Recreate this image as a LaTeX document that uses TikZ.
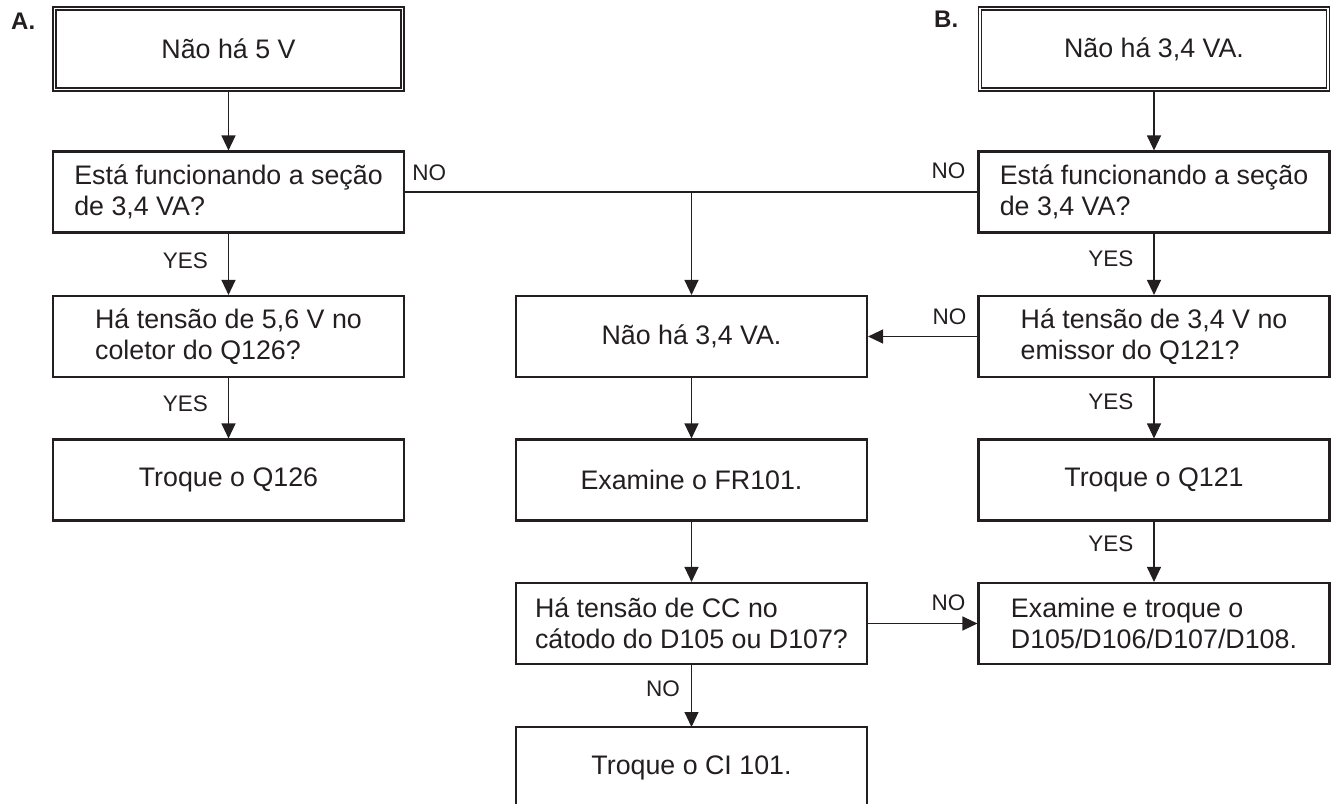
\documentclass[tikz,border=0pt]{standalone}
\usepackage{fontspec}
\setmainfont{Liberation Sans}
\usetikzlibrary{arrows.meta,calc}
\definecolor{ink}{HTML}{231F20}
\begin{document}
\begin{tikzpicture}[x=1bp,y=-1bp,
  box/.style={draw=ink, line width=2.1bp, minimum width=351bp, minimum height=81bp,
    inner sep=0pt, align=left, text=ink, font=\fontsize{26.8bp}{31bp}\selectfont},
  startbox/.style={box, line width=1.2bp, minimum height=84bp},
  inner/.style={draw=ink, line width=1.2bp},
  lbl/.style={inner sep=0pt, text=ink, font=\fontsize{22.5bp}{26bp}\selectfont},
  tag/.style={inner sep=0pt, text=ink, font=\fontsize{24bp}{28bp}\selectfont\bfseries},
  conn/.style={draw=ink, line width=1.2bp},
  arr/.style={conn, -{Triangle[length=15bp,width=14bp]}},
]
\path[use as bounding box] (0,0) rectangle (1331,804);

% section labels
\node[tag, anchor=base west] (ta) at (11,30) {A.};
\node[tag, anchor=base west] (tb) at (934,28) {B.};

% left column
\node[startbox] (a0) at (228.5,49) {Não há 5 V};
\draw[inner] ($(a0.north west)+(3.6,3.6)$) rectangle ($(a0.south east)+(-3.6,-3.6)$);
\node[box] (a1) at (228.5,192) {Está funcionando a seção\\de 3,4 VA?};
\node[box] (a2) at (228.5,336.5) {Há tensão de 5,6 V no\\coletor do Q126?};
\node[box] (a3) at (228.5,480) {Troque o Q126};

% right column
\node[startbox] (b0) at (1154,49) {Não há 3,4 VA.};
\draw[inner] ($(b0.north west)+(3.6,3.6)$) rectangle ($(b0.south east)+(-3.6,-3.6)$);
\node[box] (b1) at (1154,192) {Está funcionando a seção\\de 3,4 VA?};
\node[box] (b2) at (1154,336.5) {Há tensão de 3,4 V no\\emissor do Q121?};
\node[box] (b3) at (1154,480) {Troque o Q121};
\node[box] (b4) at (1154,623.5) {Examine e troque o\\D105/D106/D107/D108.};

% middle column
\node[box] (m2) at (691.5,336.5) {Não há 3,4 VA.};
\node[box] (m3) at (691.5,480) {Examine o FR101.};
\node[box] (m4) at (691.5,623.5) {Há tensão de CC no\\cátodo do D105 ou D107?};
\node[box, draw=none, outer sep=0pt] (m5) at (691.5,767.5) {Troque o CI 101.};
\coordinate (bot) at (0,804);
\draw[ink, line width=2.1bp] (m5.north west |- bot) -- (m5.north west) -- (m5.north east) -- (m5.north east |- bot);

% left connectors
\draw[arr] (a0) -- (a1);
\draw[arr] (a1) -- node[lbl, pos=0.45, left=20bp] (y1) {YES} (a2);
\draw[arr] (a2) -- node[lbl, pos=0.42, left=20bp] (y2) {YES} (a3);

% right connectors
\draw[arr] (b0) -- (b1);
\draw[arr] (b1) -- node[lbl, pos=0.41, left=20bp] (y3) {YES} (b2);
\draw[arr] (b2) -- node[lbl, pos=0.40, left=20bp] (y4) {YES} (b3);
\draw[arr] (b3) -- node[lbl, pos=0.36, left=20bp] (y5) {YES} (b4);

% NO line across row 1
\coordinate (j) at (a1.east -| m2.north);
\draw[conn] (a1.east) -- (b1.west);
\draw[arr] (j) -- (m2.north);
\node[lbl, anchor=west] (n1) at ($(a1.east)+(7,-19)$) {NO};
\node[lbl, anchor=east] (n2) at ($(b1.west)+(-12,-21)$) {NO};

% middle connectors
\draw[arr] (b2.west) -- (m2.east);
\node[lbl, anchor=east] (n3) at ($(b2.west)+(-11,-20)$) {NO};
\draw[arr] (m2) -- (m3);
\draw[arr] (m3) -- (m4);
\draw[arr] (m4.east) -- (b4.west);
\node[lbl, anchor=east] (n4) at ($(b4.west)+(-12,-21)$) {NO};
\draw[arr] (m4.south) -- node[lbl, pos=0.38, left=11bp] (n5) {NO} (m5.north);
\end{tikzpicture}
\end{document}
